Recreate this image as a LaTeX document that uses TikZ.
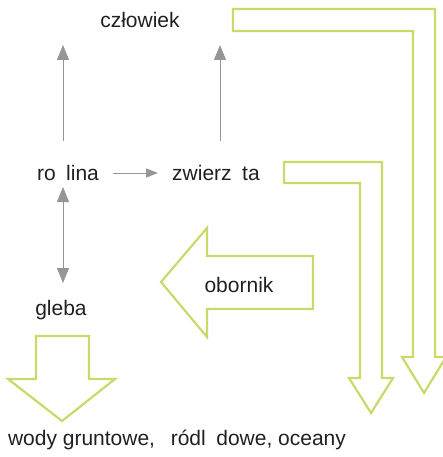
\documentclass[tikz,border=0pt]{standalone}
\usepackage{fontspec}
\setmainfont{Liberation Sans}
\usetikzlibrary{arrows.meta}
\definecolor{lime}{RGB}{204,216,106}
\definecolor{txt}{RGB}{35,31,32}
\definecolor{arr}{RGB}{150,150,150}
\tikzset{
  lbl/.style={inner sep=0pt, text=txt, font=\fontsize{21}{24}\selectfont},
  garrow/.style={draw=arr, line width=1pt, -{Triangle[length=15pt,width=12pt]}},
  gdouble/.style={draw=arr, line width=1pt, {Triangle[length=15pt,width=12pt]}-{Triangle[length=15pt,width=12pt]}},
  harrow/.style={draw=arr, line width=1pt, -{Triangle[length=12pt,width=9pt]}},
  bigarrow/.style={draw=lime, line width=2.2pt, line join=miter}
}
\begin{document}
\begin{tikzpicture}[x=1pt,y=-1pt]
\useasboundingbox (0,0) rectangle (442,457);
% labels
\node[lbl] (czlowiek) at (140,20) {człowiek};
\node[lbl] (roslina) at (68,173) {ro\hspace{0.5em}lina};
\node[lbl] (zwierzeta) at (216,173) {zwierz\hspace{0.5em}ta};
\node[lbl] (gleba) at (61,310) {gleba};
\node[lbl] (obornik) at (239,285) {obornik};
\node[lbl] (wody) at (177,440) {wody gruntowe,\hspace{0.75em}ródl\hspace{0.5em}dowe, oceany};
% arrow end points
\coordinate (a1s) at (63,141);
\coordinate (a1e) at (63,45);
\coordinate (a2s) at (220,141);
\coordinate (a2e) at (220,45);
\coordinate (a3s) at (63,187);
\coordinate (a3e) at (63,283);
\coordinate (h1) at (113,173);
\coordinate (h2) at (158,173);
% gray connectors
\draw[garrow] (a1s) -- (a1e);
\draw[garrow] (a2s) -- (a2e);
\draw[harrow] (h1) -- (h2);
\draw[gdouble] (a3s) -- (a3e);
% green block arrows
\draw[bigarrow] (233,9) -- (435,9) -- (435,357) -- (446,357) -- (424,393) -- (402,357) -- (413,357) -- (413,31) -- (233,31) -- cycle;
\draw[bigarrow] (284,162) -- (382,162) -- (382,378) -- (393,378) -- (371,413) -- (349,378) -- (360,378) -- (360,183) -- (284,183) -- cycle;
\draw[bigarrow] (161,282) -- (207,228) -- (207,256) -- (313,256) -- (313,309) -- (207,309) -- (207,337) -- cycle;
\draw[bigarrow] (36,336) -- (89,336) -- (89,379) -- (115,379) -- (62,421) -- (8,379) -- (36,379) -- cycle;
\end{tikzpicture}
\end{document}
